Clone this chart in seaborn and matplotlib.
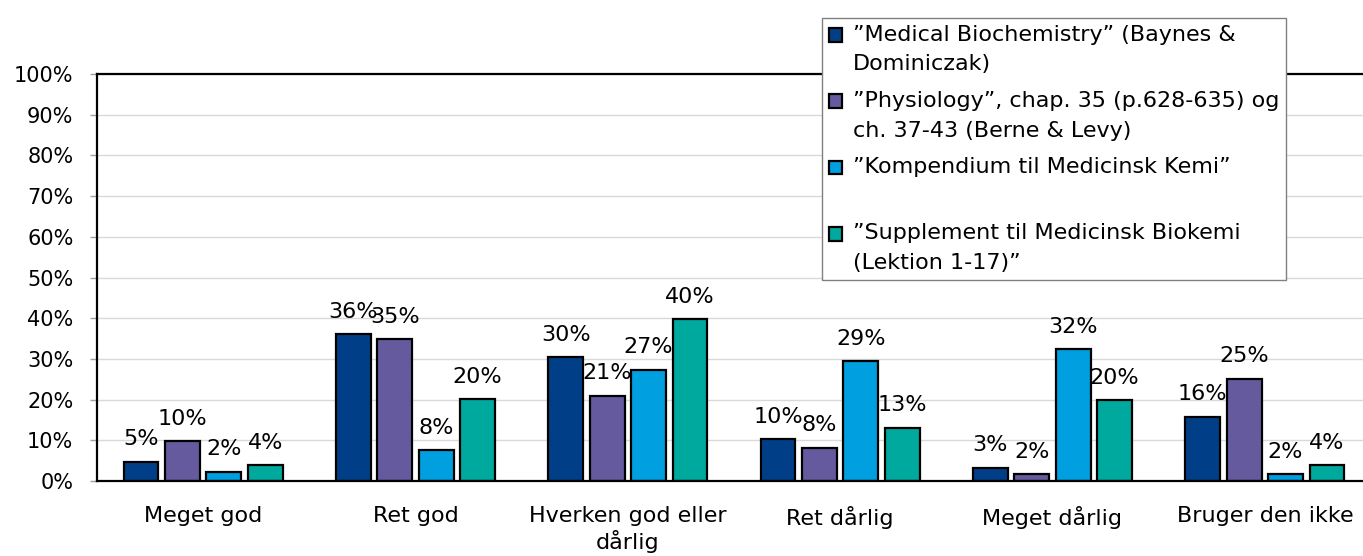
import numpy as np
import pandas as pd
import seaborn as sns
import matplotlib
matplotlib.use("Agg")
import matplotlib.pyplot as plt
from matplotlib.ticker import FuncFormatter
from matplotlib.patches import Rectangle
from matplotlib.legend_handler import HandlerPatch

categories = ["Meget god", "Ret god", "Hverken god eller\ndårlig",
              "Ret dårlig", "Meget dårlig", "Bruger den ikke"]
series_names = [
    "”Medical Biochemistry” (Baynes &\nDominiczak)",
    "”Physiology”, chap. 35 (p.628-635) og\nch. 37-43 (Berne & Levy)",
    "”Kompendium til Medicinsk Kemi”\n ",
    "”Supplement til Medicinsk Biokemi\n(Lektion 1-17)”",
]
baynes = [4.7, 36.1, 30.4, 10.2, 3.2, 15.8]
physiology = [9.8, 34.8, 21.0, 8.2, 1.7, 25.1]
kompendium = [2.3, 7.6, 27.3, 29.4, 32.4, 1.6]
supplement = [3.9, 20.1, 39.7, 13.1, 19.9, 3.9]
colors = ["#003f87", "#665a9f", "#009fdf", "#00a99d"]
yticks = [0, 10, 20, 30, 40, 50, 60, 70, 80, 90, 100]

values = [baynes, physiology, kompendium, supplement]
df = pd.DataFrame({
    "cat": np.repeat([categories], 4, axis=0).ravel(),
    "series": np.repeat(series_names, len(categories)),
    "val": np.concatenate(values),
})

sns.set_theme(style="white")
plt.rcParams["font.family"] = ["DejaVu Sans"]
plt.rcParams["text.color"] = "black"

W, H = 1363, 556
fig = plt.figure(figsize=(W / 100, H / 100), dpi=100)
ax = fig.add_axes([97 / W, 1 - 481 / H, (1371 - 97) / W, (481 - 74) / H])

sns.barplot(data=df, x="cat", y="val", hue="series", order=categories,
            hue_order=series_names, palette=colors, width=0.78, gap=0.16,
            edgecolor="black", linewidth=1.6, saturation=1, ax=ax)

for cont, vals in zip(ax.containers, values):
    ax.bar_label(cont, labels=[f"{round(v)}%" for v in vals], padding=9,
                 fontsize=16, color="black")

ax.set_ylim(0, 100)
ax.set_xlim(-0.5, 5.5)
ax.set_yticks(yticks)
ax.yaxis.set_major_formatter(FuncFormatter(lambda v, p: f"{v:.0f}%"))
ax.set_xlabel("")
ax.set_ylabel("")
ax.grid(axis="y", color="#d9d9d9", linewidth=1)
ax.set_axisbelow(True)
for s in ["left", "top", "bottom", "right"]:
    ax.spines[s].set_color("black")
    ax.spines[s].set_linewidth(1.6)
ax.tick_params(axis="y", length=5, width=1, color="#a0a0a0", pad=12,
               labelsize=15, left=True, labelcolor="black")
ax.tick_params(axis="x", length=0, pad=18, labelsize=16, labelcolor="black")

LEG_FS = 16
LINESP = 1.6


def top_square(legend, orig_handle, xdescent, ydescent, width, height, fontsize):
    shift = 0.66 * fontsize
    return Rectangle((-xdescent, -ydescent + shift), width, height)


handles, labels = ax.get_legend_handles_labels()
ax.get_legend().remove()
leg = fig.legend(handles, labels, loc="upper left",
                 bbox_to_anchor=(822 / W, 1 - 18 / H), fontsize=LEG_FS,
                 frameon=True, fancybox=False, edgecolor="#808080",
                 framealpha=1, borderpad=0.3, labelspacing=0.75,
                 borderaxespad=0, handlelength=0.58, handleheight=0.58,
                 handletextpad=0.5,
                 handler_map={h: HandlerPatch(patch_func=top_square) for h in handles})
leg.get_frame().set_linewidth(1)
for t in leg.get_texts():
    t.set_linespacing(LINESP)
    t.set_color("black")

fig.savefig("out.png", dpi=100)
